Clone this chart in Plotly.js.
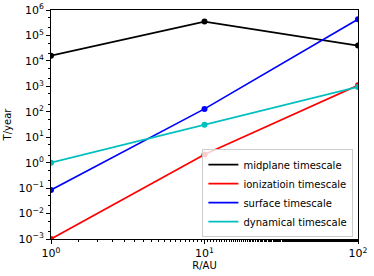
<!DOCTYPE html>
<html><head><meta charset="utf-8">
<script src="https://cdn.plot.ly/plotly-3.0.1.min.js"></script>
<style>html,body{margin:0;padding:0;background:#fff}</style>
</head><body><div id="c" style="width:374px;height:276px"></div>
<script>
const radius = [1, 10, 100];
const midplane = [1.6e4, 3.5e5, 4.0e4];
const ionization = [1.0e-3, 2.1, 1.1e3];
const surface = [0.085, 130, 4.3e5];
const dynamical = [1.0, 31, 950];
const seriesNames = ['midplane timescale', 'ionizatioin timescale', 'surface timescale', 'dynamical timescale'];
const colors = ['#000000', '#ff0000', '#0000ff', '#00bfbf'];
const yTickVals = [1e-3, 1e-2, 1e-1, 1, 10, 100, 1e3, 1e4, 1e5, 1e6];
const yTickText = ['10<sup>−3</sup>','10<sup>−2</sup>','10<sup>−1</sup>','10<sup>0</sup>','10<sup>1</sup>','10<sup>2</sup>','10<sup>3</sup>','10<sup>4</sup>','10<sup>5</sup>','10<sup>6</sup>'];
const xTickVals = [1, 10, 100];
const xTickText = ['10<sup>0</sup>','10<sup>1</sup>','10<sup>2</sup>'];

const ys = [midplane, ionization, surface, dynamical];
const traces = [];
ys.forEach((y, i) => {
  traces.push({x: radius, y: y, name: seriesNames[i], type: 'scatter', mode: 'lines',
    line: {color: colors[i], width: 1.7}, legendgroup: 'g' + i});
});
ys.forEach((y, i) => {
  traces.push({x: radius, y: y, name: seriesNames[i], type: 'scatter', mode: 'markers',
    marker: {color: colors[i], size: 6}, showlegend: false, legendgroup: 'g' + i, cliponaxis: true});
});
const font = {family: 'DejaVu Sans', size: 11, color: '#000'};
const layout = {
  width: 374, height: 276,
  margin: {l: 51, r: 16, t: 10, b: 37},
  paper_bgcolor: '#fff', plot_bgcolor: '#fff',
  font: font, showlegend: true,
  legend: {x: 0.985, y: 0.008, xanchor: 'right', yanchor: 'bottom',
    bordercolor: '#cccccc', borderwidth: 1, bgcolor: 'rgba(255,255,255,0.8)',
    font: {family: 'DejaVu Sans', size: 10}, itemwidth: 30, tracegroupgap: 0},
  xaxis: {type: 'log', range: [0, 2], tickvals: xTickVals, ticktext: xTickText, automargin: false,
    ticks: 'outside', ticklen: 4, tickcolor: '#000', showgrid: false, zeroline: false,
    showline: true, linecolor: '#000', linewidth: 1, mirror: true,
    minor: {ticks: 'outside', ticklen: 2, tickcolor: '#000', showgrid: false},
    title: {text: 'R/AU', font: {family: 'DejaVu Sans', size: 10, color: '#000'}, standoff: 2}, tickfont: font},
  yaxis: {type: 'log', range: [-3, 6], tickvals: yTickVals, ticktext: yTickText, automargin: false,
    ticks: 'outside', ticklen: 4, tickcolor: '#000', showgrid: false, zeroline: false,
    showline: true, linecolor: '#000', linewidth: 1, mirror: true,
    minor: {ticks: 'outside', ticklen: 2, tickcolor: '#000', showgrid: false},
    title: {text: 'T/year', font: {family: 'DejaVu Sans', size: 10, color: '#000'}, standoff: 4}, tickfont: font}
};
Plotly.newPlot('c', traces, layout, {displayModeBar: false, staticPlot: true});
</script></body></html>
